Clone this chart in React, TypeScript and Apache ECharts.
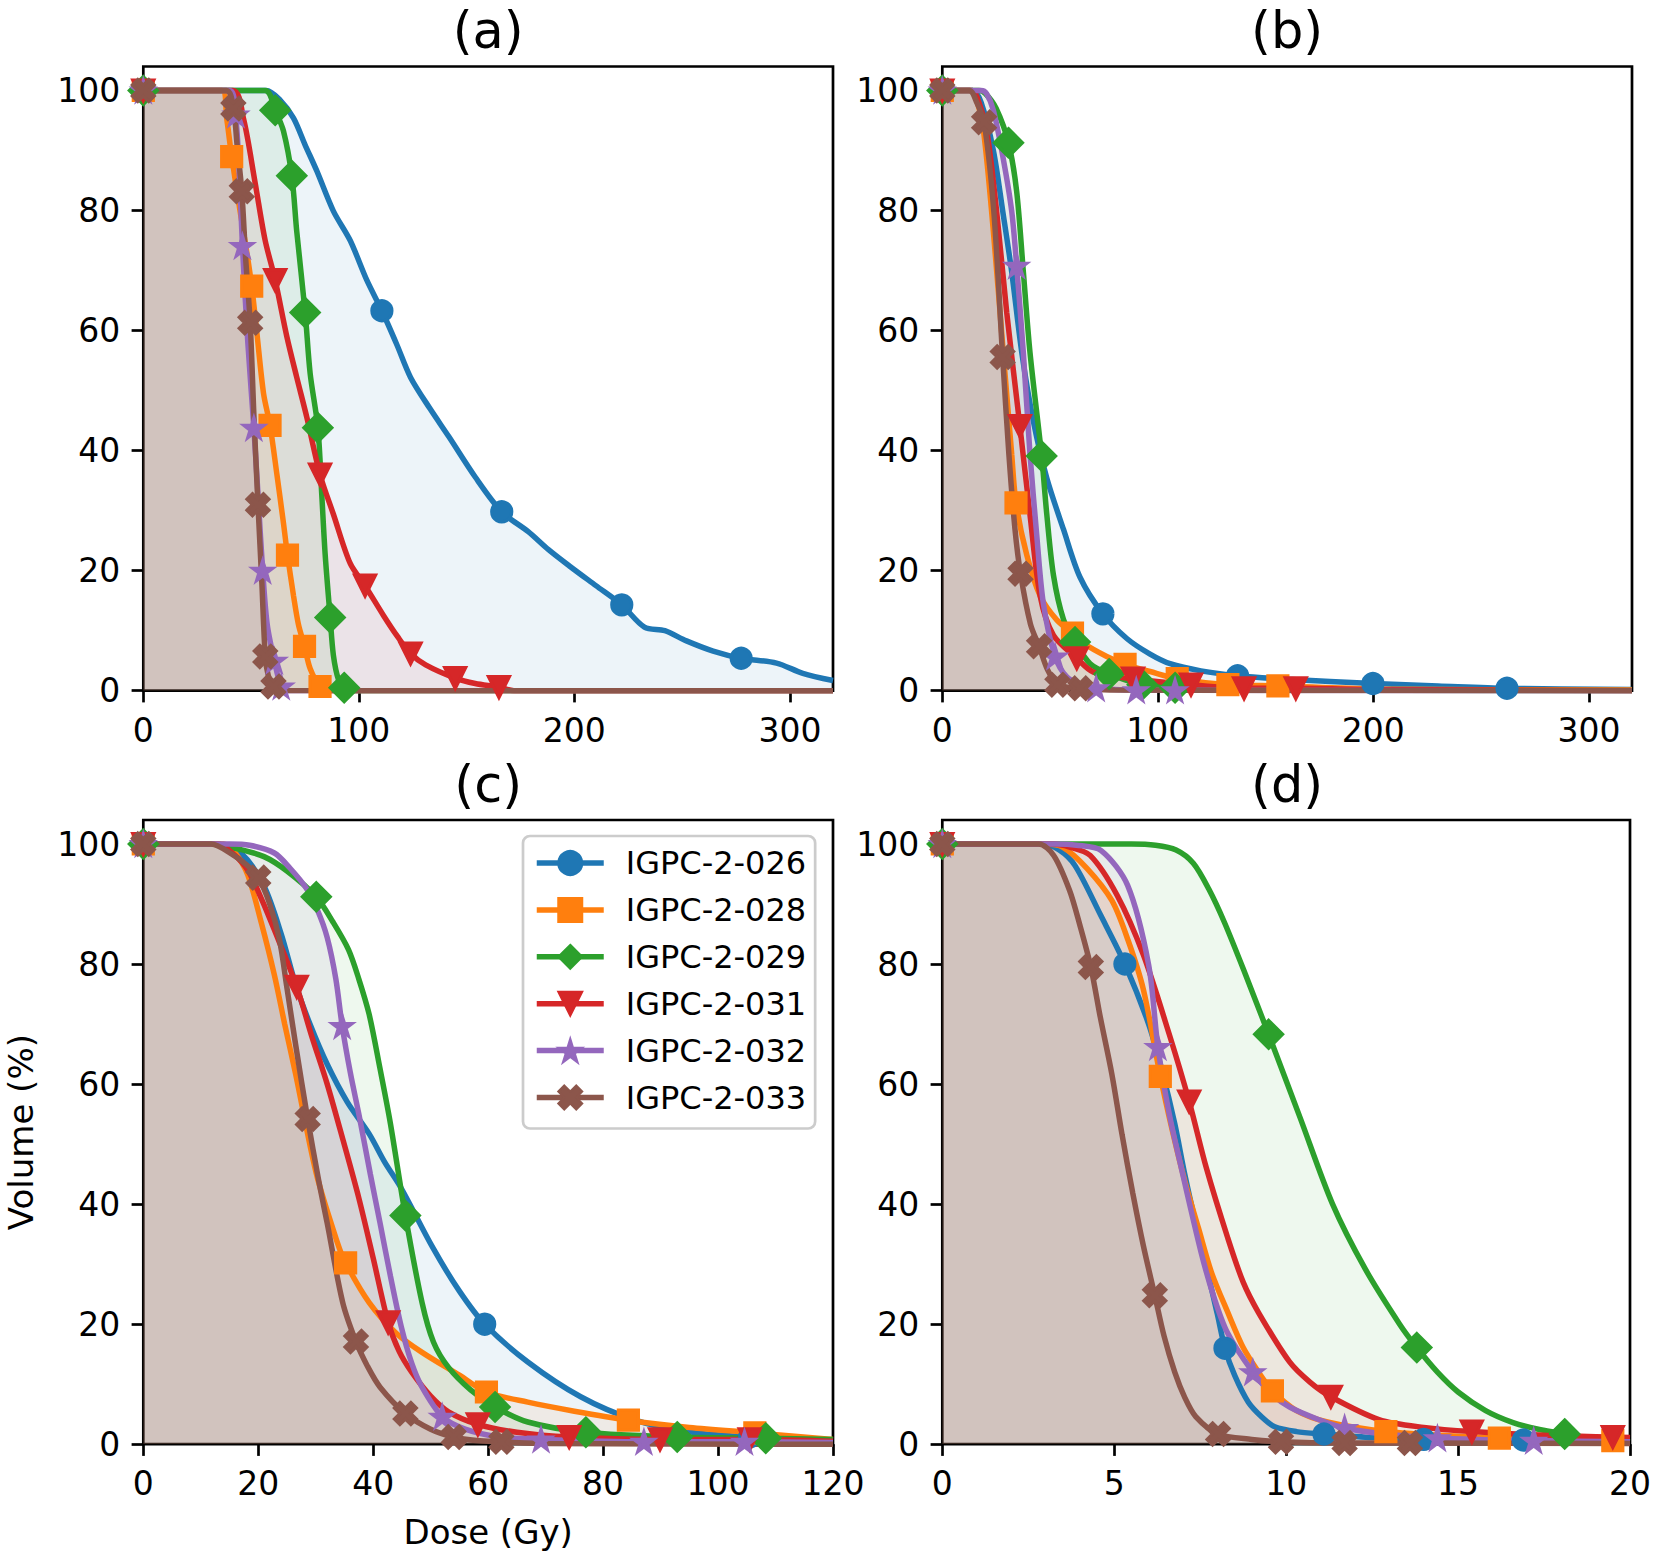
import React, { useEffect, useRef } from 'react';
import * as echarts from 'echarts';

type Pt = [number, number];

// ---------------- data ----------------
const SERIES_NAMES = ['IGPC-2-026', 'IGPC-2-028', 'IGPC-2-029', 'IGPC-2-031', 'IGPC-2-032', 'IGPC-2-033'];
const PANEL_LABELS = ['(a)', '(b)', '(c)', '(d)'];
const X_MAX = [320, 320, 120, 20];
const Y_MAX = 104;
const X_TICKS_AB = [0, 100, 200, 300];
const X_TICKS_C = [0, 20, 40, 60, 80, 100, 120];
const X_TICKS_D = [0, 5, 10, 15, 20];
const Y_TICKS = [0, 20, 40, 60, 80, 100];
const X_LABEL = 'Dose (Gy)';
const Y_LABEL = 'Volume (%)';

// panel (a)
const a026: Pt[] = [[0, 100], [57, 100], [63.5, 98.4], [69.7, 95.4], [75, 91], [80.5, 86.6], [88.2, 79.9], [96, 75], [103.7, 68.4], [110.7, 63.3], [117.7, 57.6], [124, 52.2], [133, 47], [141.8, 42.3], [154, 35.6], [166.3, 29.8], [178.6, 26.5], [188, 23.5], [198, 20.7], [210, 17.5], [222, 14.3], [232.5, 10.6], [242, 10], [252, 8.3], [264.4, 6.6], [277.4, 5.4], [293.8, 4.6], [306, 2.9], [320, 1.7]];
const a026m: Pt[] = [[0, 100], [110.7, 63.3], [166.3, 29.8], [222, 14.3], [277.4, 5.4]];
const a028: Pt[] = [[0, 100], [36.5, 100], [38.7, 95.3], [41, 89], [44.9, 79.9], [48, 73.1], [50.3, 67.4], [52.7, 59.6], [55.8, 49.5], [58.8, 44.2], [62, 36], [65, 28], [66.9, 22.6], [69.7, 15.8], [72, 11], [74.8, 7.4], [77.4, 3.7], [82, 0.7], [86, 0], [320, 0]];
const a028m: Pt[] = [[0, 100], [41, 89], [50.3, 67.4], [58.8, 44.2], [66.9, 22.6], [74.8, 7.4], [82, 0.7]];
const a029: Pt[] = [[0, 100], [56.5, 100], [61.2, 96.7], [65, 93.3], [68.9, 85.8], [71.2, 76.5], [75.1, 63], [77.4, 52.9], [81, 43.8], [82.8, 32.7], [84.4, 22.6], [86.7, 12.2], [88.2, 5.9], [90.6, 1.8], [93.2, 0.5], [98, 0], [320, 0]];
const a029m: Pt[] = [[0, 100], [61.2, 96.7], [68.9, 85.8], [75.1, 63], [81, 43.8], [86.7, 12.2], [93.2, 0.5]];
const a031: Pt[] = [[0, 100], [41.5, 100], [46.5, 95.3], [51.9, 84.6], [56.5, 75.1], [61.2, 68.4], [66.6, 59], [71.2, 52.2], [75.9, 45.5], [82, 36], [88.2, 29.4], [96, 21.2], [102.9, 17.5], [111.5, 12.5], [118, 9], [124, 6.2], [131, 4.3], [144.7, 2.1], [154, 1.2], [165, 0.6], [172, 0], [320, 0]];
const a031m: Pt[] = [[0, 100], [61.2, 68.4], [82, 36], [102.9, 17.5], [124, 6.2], [144.7, 2.1], [165, 0.6]];
const a032: Pt[] = [[0, 100], [40, 100], [42.6, 96.7], [44.3, 88], [46, 74.1], [48.5, 58], [51.3, 43.8], [53.5, 31], [55.4, 20], [57.5, 11], [60.8, 5], [64, 0.7], [67, 0], [320, 0]];
const a032m: Pt[] = [[0, 100], [43, 96], [46, 74.1], [51.3, 43.8], [55.4, 20], [60.8, 5], [64, 0.7]];
const a033: Pt[] = [[0, 100], [38.5, 100], [41.8, 97], [43.5, 91], [45.7, 83.2], [47.5, 72], [49.6, 61.3], [51.3, 46], [53.2, 31], [55, 18], [56.6, 5.7], [58, 2.5], [60.4, 0.7], [63, 0], [320, 0]];
const a033m: Pt[] = [[0, 100], [41.8, 97], [45.7, 83.2], [49.6, 61.3], [53.2, 31], [56.6, 5.7], [60.4, 0.7]];

// panel (b)
const b026: Pt[] = [[0, 100], [14, 100], [18, 98], [23.7, 90], [28, 80], [32.2, 69.8], [36.9, 56.3], [42.3, 44.8], [48.5, 35.4], [56.2, 26.9], [63.9, 18.9], [74.5, 12.8], [85.6, 8.7], [96.4, 6.1], [105.7, 4.5], [120, 3.3], [137, 2.5], [160, 1.9], [199.8, 1.2], [230, 0.8], [262, 0.4], [320, 0.2]];
const b026m: Pt[] = [[0, 100], [74.5, 12.8], [137, 2.5], [199.8, 1.2], [262, 0.4]];
const b028: Pt[] = [[0, 100], [13, 100], [15.5, 99], [19.1, 93.3], [23.7, 76.5], [28.3, 56.3], [32.2, 39.4], [34.2, 31.3], [39.2, 22.6], [45.4, 15.8], [53.1, 11.8], [60.4, 9.6], [65.5, 7.9], [76.3, 5.7], [84.8, 4.4], [96.4, 3.2], [109, 2], [132.5, 1], [155.7, 0.8], [200, 0.3], [320, 0.1]];
const b028m: Pt[] = [[0, 100], [34.2, 31.3], [60.4, 9.6], [84.8, 4.4], [109, 2], [132.5, 1], [155.7, 0.8]];
const b029: Pt[] = [[0, 100], [17, 100], [20, 99.5], [25, 97], [30.7, 91.3], [34.5, 83.2], [37.6, 69.8], [40.7, 56.3], [46.1, 39.1], [48.5, 29.3], [51.6, 19.2], [56.2, 11.9], [61.6, 8.1], [68.6, 4.5], [77.4, 2.8], [92.8, 1], [108, 0.5], [130, 0.2], [320, 0]];
const b029m: Pt[] = [[0, 100], [30.7, 91.3], [46.1, 39.1], [61.6, 8.1], [77.4, 2.8], [92.8, 1], [108, 0.5]];
const b031: Pt[] = [[0, 100], [14, 100], [16.5, 98.5], [20.6, 93.3], [25.2, 79.9], [29.9, 63], [36, 44.1], [40.7, 29.3], [45.4, 15.8], [51.6, 9.2], [62.4, 5.4], [70.1, 3.1], [88.5, 2], [115.4, 1], [140, 0.4], [164, 0.4], [200, 0.2], [320, 0]];
const b031m: Pt[] = [[0, 100], [36, 44.1], [62.4, 5.4], [88.5, 2], [115.4, 1], [140, 0.4], [164, 0.4]];
const b032: Pt[] = [[0, 100], [18, 100], [20.5, 99.5], [23.7, 96.7], [28.3, 88.6], [32.2, 79.9], [34.5, 70.8], [37.6, 56.3], [40.7, 39.4], [43.8, 26], [46.9, 14.5], [52.3, 5.7], [57.8, 2.3], [65, 1], [71.4, 0.4], [90, 0.1], [320, 0]];
const b032m: Pt[] = [[0, 100], [34.5, 70.8], [52.3, 5.7], [71.4, 0.4], [90, 0.1], [108, 0.1]];
const b033: Pt[] = [[0, 100], [12.5, 100], [16, 98], [19.4, 94.7], [23.9, 79.9], [28, 55.6], [30.9, 39.4], [33.7, 27], [36.3, 19.5], [40.9, 11.1], [44.9, 7.4], [48.7, 3.6], [53.4, 1], [58, 0.6], [64, 0.4], [80, 0.1], [320, 0]];
const b033m: Pt[] = [[0, 100], [19.4, 94.7], [28, 55.6], [36.3, 19.5], [44.9, 7.4], [53.4, 1], [64, 0.4]];

// panel (c)
const c026: Pt[] = [[0, 100], [13, 100], [17, 98.5], [21, 93], [24, 85], [26.5, 76.6], [29, 70], [32, 63.3], [35.5, 57], [39.3, 51.7], [42, 47], [44.9, 42.6], [50.4, 32.7], [55, 25.5], [59.4, 20], [66.9, 13.7], [76.1, 7.9], [85.3, 4.1], [94.5, 2.1], [105.5, 1.2], [120, 0.5]];
const c026m: Pt[] = [[0, 100], [59.4, 20], [105.5, 1.2]];
const c028: Pt[] = [[0, 100], [14, 100], [16, 98.5], [18.2, 94.8], [20.5, 87], [22.8, 78.2], [24.6, 70], [26.5, 61.7], [30.1, 45.1], [33.8, 33.5], [35.2, 30.2], [39.3, 23.6], [44, 18.5], [48.5, 15.3], [55, 11.5], [59.7, 8.7], [66.9, 7], [75, 5.5], [84.4, 4], [95, 2.8], [106.4, 1.9], [120, 0.8]];
const c028m: Pt[] = [[0, 100], [35.2, 30.2], [59.7, 8.7], [84.4, 4], [106.4, 1.9]];
const c029: Pt[] = [[0, 100], [12, 100], [16, 99.3], [21, 97.9], [25, 95.5], [30.1, 91.2], [33, 87], [35.7, 82.4], [37.5, 77.5], [39.3, 71.6], [41.2, 62.5], [43, 53.4], [45.6, 38.1], [48.5, 23.6], [50.5, 17], [53.1, 12.8], [57, 9], [61.2, 6.2], [66.9, 3.7], [77, 2], [92.9, 1.2], [108.3, 1], [120, 0.8]];
const c029m: Pt[] = [[0, 100], [30.1, 91.2], [45.6, 38.1], [61.2, 6.2], [77, 2], [92.9, 1.2], [108.3, 1]];
const c031: Pt[] = [[0, 100], [13, 100], [15.5, 98.5], [18.2, 95.6], [20.5, 91], [22.8, 85.7], [26.7, 76.2], [29.3, 68], [32, 60], [34.8, 50.5], [37.5, 41], [40, 31], [42.6, 20.3], [44.5, 15.5], [46.7, 12], [50, 8], [53.1, 5.4], [58.2, 3.3], [65, 2], [74.1, 1.2], [89.9, 0.8], [105.5, 0.8], [120, 0.5]];
const c031m: Pt[] = [[0, 100], [26.7, 76.2], [42.6, 20.3], [58.2, 3.3], [74.1, 1.2], [89.9, 0.8], [105.5, 0.8]];
const c032: Pt[] = [[0, 100], [15, 100], [18.5, 99.8], [22.8, 98.5], [25.5, 96], [28.3, 92.7], [30.3, 89], [32, 84.4], [33.5, 77.5], [34.6, 69.7], [36, 62], [37.5, 55], [39.5, 45], [41.2, 36.8], [43, 28], [44.9, 19.5], [46.7, 13.5], [48.5, 9.5], [52, 4.6], [56, 2.5], [62, 1.2], [69.2, 0.8], [87.1, 0.4], [104.6, 0.4], [120, 0.3]];
const c032m: Pt[] = [[0, 100], [34.6, 69.7], [52, 4.6], [69.2, 0.8], [87.1, 0.4], [104.6, 0.4]];
const c033: Pt[] = [[0, 100], [11.8, 100], [15.4, 98.3], [18, 96.5], [20, 94.4], [22, 90], [23.7, 84], [25, 76], [26.5, 66.6], [28.6, 54.2], [30.5, 44], [32, 36.8], [34.7, 23.6], [37, 17.1], [39, 13], [41.2, 9.5], [45.6, 5.1], [50, 2.5], [54, 1.2], [58, 0.6], [62.3, 0.4], [70, 0.1], [120, 0]];
const c033m: Pt[] = [[0, 100], [20, 94.4], [28.6, 54.2], [37, 17.1], [45.6, 5.1], [54, 1.2], [62.3, 0.4]];

// panel (d)
const d026: Pt[] = [[0, 100], [2.9, 100], [3.4, 99], [3.86, 96.4], [4.6, 88.2], [5.31, 80], [6.0, 70], [6.4, 62], [6.76, 53.4], [7.05, 45], [7.37, 36.8], [7.7, 29], [7.99, 21.9], [8.22, 16], [8.5, 11.5], [8.9, 7], [9.3, 4.5], [9.67, 2.9], [10.3, 2.1], [11.1, 1.7], [12.5, 1.1], [14, 0.8], [16.9, 0.7], [18.5, 0.5], [20, 0.4]];
const d026m: Pt[] = [[0, 100], [5.31, 80], [8.22, 16], [11.1, 1.7], [14, 0.8], [16.9, 0.7]];
const d028: Pt[] = [[0, 100], [3, 100], [3.5, 99.5], [4.2, 96], [4.93, 90.6], [5.4, 84], [5.85, 75.7], [6.34, 61.3], [6.7, 52], [7.07, 43.5], [7.45, 36], [7.83, 28.6], [8.3, 22], [8.75, 16.1], [9.2, 12], [9.6, 8.9], [10.3, 5.6], [11.2, 3.7], [12.9, 2.1], [14.5, 1.5], [16.2, 1], [18, 0.7], [20, 0.5]];
const d028m: Pt[] = [[0, 100], [6.34, 61.3], [9.6, 8.9], [12.9, 2.1], [16.2, 1], [19.5, 0.6]];
const d029: Pt[] = [[0, 100], [5.5, 100], [6.2, 99.8], [6.8, 99], [7.3, 96.8], [7.75, 92.5], [8.2, 87], [8.8, 78.5], [9.49, 68.3], [10.4, 54.5], [11.35, 40], [12.3, 29.2], [13.3, 20], [13.8, 16.1], [14.4, 12], [15, 8.7], [15.8, 5.6], [16.6, 3.6], [17.4, 2.4], [18.1, 1.7], [18.9, 0.9], [20, 0.4]];
const d029m: Pt[] = [[0, 100], [9.49, 68.3], [13.8, 16.1], [18.1, 1.7]];
const d031: Pt[] = [[0, 100], [3.2, 100], [3.7, 99.5], [4.3, 98.1], [5.08, 91.5], [5.85, 81.5], [6.6, 68.3], [7.18, 57.1], [7.68, 46], [8.3, 34.4], [8.75, 27], [9.2, 21.9], [10.1, 13.7], [10.7, 10.3], [11.3, 7.9], [12.7, 4.1], [14, 2.8], [15.4, 2.1], [17.5, 1.5], [19.5, 1.2], [20, 1.1]];
const d031m: Pt[] = [[0, 100], [7.18, 57.1], [11.3, 7.9], [15.4, 2.1], [19.5, 1.2]];
const d032: Pt[] = [[0, 100], [3.3, 100], [3.9, 99.8], [4.62, 98.9], [5.39, 93.1], [6, 79.9], [6.27, 66.2], [6.6, 55], [6.92, 46.8], [7.53, 31.9], [7.9, 24.5], [8.29, 18.6], [9.03, 12], [9.6, 8.3], [10.1, 6.2], [10.9, 4.2], [11.7, 2.7], [13, 1.6], [14.4, 1], [17.2, 0.6], [20, 0.4]];
const d032m: Pt[] = [[0, 100], [6.27, 66.2], [9.03, 12], [11.7, 2.7], [14.4, 1], [17.2, 0.6]];
const d033: Pt[] = [[0, 100], [2.8, 100], [3.24, 98.1], [3.7, 92.3], [4.0, 86.5], [4.32, 79.5], [4.6, 71], [4.93, 61.7], [5.23, 51.5], [5.54, 41.8], [5.85, 33], [6.18, 24.8], [6.45, 18], [6.76, 12], [7.05, 7.8], [7.37, 4.6], [8.02, 1.7], [9, 0.8], [9.85, 0.4], [11.7, 0.2], [13.6, 0.2], [20, 0.1]];
const d033m: Pt[] = [[0, 100], [4.32, 79.5], [6.18, 24.8], [8.02, 1.7], [9.85, 0.4], [11.7, 0.2], [13.6, 0.2]];

const CURVES: Pt[][][] = [
  [a026, a028, a029, a031, a032, a033],
  [b026, b028, b029, b031, b032, b033],
  [c026, c028, c029, c031, c032, c033],
  [d026, d028, d029, d031, d032, d033],
];
const MARKS: Pt[][][] = [
  [a026m, a028m, a029m, a031m, a032m, a033m],
  [b026m, b028m, b029m, b031m, b032m, b033m],
  [c026m, c028m, c029m, c031m, c032m, c033m],
  [d026m, d028m, d029m, d031m, d032m, d033m],
];
const X_TICKS = [X_TICKS_AB, X_TICKS_AB, X_TICKS_C, X_TICKS_D];

// ---------------- style ----------------
const COLORS = ['#1f77b4', '#ff7f0e', '#2ca02c', '#d62728', '#9467bd', '#8c564b'];
const STAR = 'path://M0,-1L0.2245,-0.309L0.951,-0.309L0.363,0.118L0.588,0.809L0,0.382L-0.588,0.809L-0.363,0.118L-0.951,-0.309L-0.2245,-0.309Z';
const XMARK = 'path://M0.25,0L0.5,0.25L0.75,0L1,0.25L0.75,0.5L1,0.75L0.75,1L0.5,0.75L0.25,1L0,0.75L0.25,0.5L0,0.25Z';
const SYMBOLS = ['circle', 'rect', 'diamond', 'triangle', STAR, XMARK];
const SYMBOL_SIZES = [20, 20, 28, 21, 20, 22];
const SYMBOL_ROTATE = [0, 0, 0, 180, 0, 0];
const MARK_EDGE = 3.2;
const LINE_W = 5.5;

const FONT = 'DejaVu Sans';
const GRID_LEFT = [143.3, 942.3, 143.3, 942.3];
const GRID_TOP = [66.5, 66.5, 820, 820];
const GRID_W = 689.7;
const GRID_H = 624.2;

function buildOption() {
  const grid: any[] = [];
  const xAxis: any[] = [];
  const yAxis: any[] = [];
  const areaSeries: any[] = [];
  const lineSeries: any[] = [];
  const markSeries: any[] = [];
  const graphic: any[] = [];

  for (let p = 0; p < 4; p++) {
    grid.push({
      left: GRID_LEFT[p], top: GRID_TOP[p], width: GRID_W, height: GRID_H,
      show: true, borderColor: '#000', borderWidth: 2.7, backgroundColor: 'transparent',
    });
    xAxis.push({
      type: 'value', gridIndex: p, min: 0, max: X_MAX[p],
      splitLine: { show: false },
      axisLine: { show: false },
      axisTick: { show: true, length: 11.7, lineStyle: { color: '#000', width: 2.7 }, customValues: X_TICKS[p] },
      axisLabel: { fontFamily: FONT, fontSize: 33, color: '#000', margin: 23, customValues: X_TICKS[p], showMaxLabel: true, showMinLabel: true },
    });
    yAxis.push({
      type: 'value', gridIndex: p, min: 0, max: Y_MAX,
      splitLine: { show: false },
      axisLine: { show: false },
      axisTick: { show: true, length: 11.7, lineStyle: { color: '#000', width: 2.7 }, customValues: Y_TICKS },
      axisLabel: { fontFamily: FONT, fontSize: 33, color: '#000', margin: 23, customValues: Y_TICKS },
    });

    for (let s = 0; s < 6; s++) {
      const curve = CURVES[p][s];
      areaSeries.push({
        type: 'line', xAxisIndex: p, yAxisIndex: p, data: curve, smooth: 0.3,
        symbol: 'none', showSymbol: false, silent: true, z: 1,
        lineStyle: { width: 0, opacity: 0 },
        areaStyle: { color: COLORS[s], opacity: 0.08 },
        emphasis: { disabled: true },
      });
      lineSeries.push({
        type: 'line', name: SERIES_NAMES[s], xAxisIndex: p, yAxisIndex: p, data: curve, smooth: 0.3,
        symbol: SYMBOLS[s], symbolSize: SYMBOL_SIZES[s], symbolRotate: SYMBOL_ROTATE[s],
        showSymbol: false, silent: true, z: 3, color: COLORS[s],
        itemStyle: { color: COLORS[s], borderColor: COLORS[s], borderWidth: MARK_EDGE },
        lineStyle: { width: LINE_W, color: COLORS[s] },
        emphasis: { disabled: true },
      });
      markSeries.push({
        type: 'scatter', xAxisIndex: p, yAxisIndex: p, data: MARKS[p][s],
        symbol: SYMBOLS[s], symbolSize: SYMBOL_SIZES[s], symbolRotate: SYMBOL_ROTATE[s],
        itemStyle: { color: COLORS[s], opacity: 1, borderColor: COLORS[s], borderWidth: MARK_EDGE, borderJoin: 'miter' },
        silent: true, z: 4,
        emphasis: { disabled: true },
      });
    }

    graphic.push({
      type: 'text', x: GRID_LEFT[p] + GRID_W / 2, y: GRID_TOP[p] - 36,
      style: { text: PANEL_LABELS[p], fontFamily: FONT, fontSize: 51, fill: '#000', textAlign: 'center', textVerticalAlign: 'middle' },
    });
  }

  graphic.push({
    type: 'text', x: GRID_LEFT[2] + GRID_W / 2, y: 1532,
    style: { text: X_LABEL, fontFamily: FONT, fontSize: 34, fill: '#000', textAlign: 'center', textVerticalAlign: 'middle' },
  });
  graphic.push({
    type: 'text', x: 21, y: GRID_TOP[2] + GRID_H / 2, rotation: Math.PI / 2,
    style: { text: Y_LABEL, fontFamily: FONT, fontSize: 34, fill: '#000', textAlign: 'center', textVerticalAlign: 'middle' },
  });

  return {
    animation: false,
    backgroundColor: '#fff',
    textStyle: { fontFamily: FONT },
    grid, xAxis, yAxis,
    legend: {
      show: true, orient: 'vertical', left: 523, top: 836,
      data: SERIES_NAMES, selectedMode: false,
      itemWidth: 67, itemHeight: 30, itemGap: 14.9,
      padding: [11, 9, 15, 11],
      lineStyle: { width: LINE_W },
      backgroundColor: 'rgba(255,255,255,0.8)', borderColor: '#cccccc', borderWidth: 2.7, borderRadius: 7,
      textStyle: { fontFamily: FONT, fontSize: 32, color: '#000', padding: [0, 0, 0, 17], lineHeight: 30 },
    },
    series: [...areaSeries, ...lineSeries, ...markSeries],
    graphic,
  };
}

export default function App() {
  const ref = useRef<HTMLDivElement>(null);
  useEffect(() => {
    document.body.style.margin = '0';
    if (!ref.current) return;
    const chart = echarts.init(ref.current, null, { renderer: 'svg', width: 1654, height: 1554 });
    chart.setOption(buildOption() as any);
    return () => chart.dispose();
  }, []);
  return <div ref={ref} style={{ width: 1654, height: 1554 }} />;
}
